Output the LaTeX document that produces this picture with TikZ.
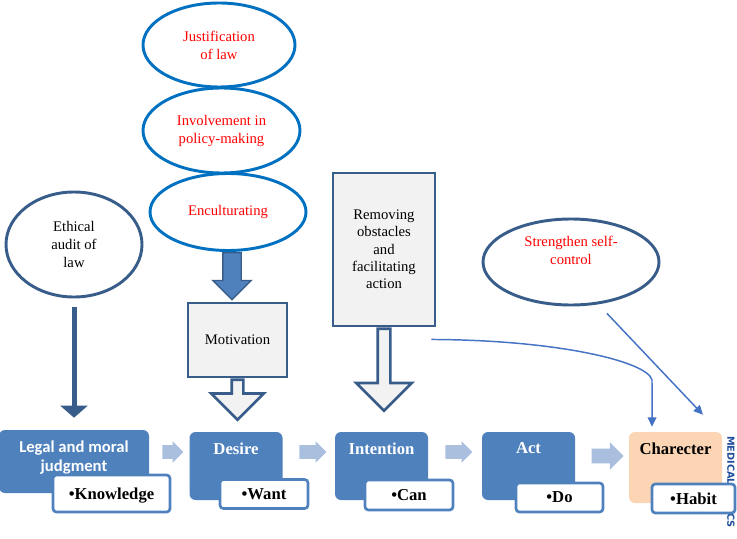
\documentclass[tikz,border=0pt]{standalone}
\usepackage{fontspec}
\setmainfont{Liberation Serif}
\newfontfamily\calibri{Carlito}
\newfontfamily\wmfont{DejaVu Sans}
\usetikzlibrary{shapes.geometric,shapes.arrows,arrows.meta}
\definecolor{ellblue}{RGB}{0,112,192}
\definecolor{darkblue}{RGB}{56,93,138}
\definecolor{midblue}{RGB}{79,129,189}
\definecolor{paleblue}{RGB}{170,190,222}
\definecolor{boxgray}{RGB}{242,242,242}
\definecolor{peach}{RGB}{252,213,180}
\definecolor{linkblue}{RGB}{68,114,196}
\definecolor{wmblue}{RGB}{31,78,154}
\begin{document}
\begin{tikzpicture}[x=0.75pt,y=-0.75pt,
  bluering/.style={ellipse, draw=ellblue, line width=2.2pt, text=red, align=center, inner sep=0pt, font=\fontsize{11}{13.5}\selectfont},
  darkring/.style={ellipse, draw=darkblue, line width=2.2pt, align=center, inner sep=0pt, font=\fontsize{11}{13.5}\selectfont},
  graybox/.style={rectangle, draw=darkblue, fill=boxgray, line width=2.2pt, align=center, inner sep=0pt, font=\fontsize{11}{13}\selectfont},
  stagebox/.style={rectangle, rounded corners=4.5pt, fill=midblue, minimum width=69.75pt, minimum height=51pt},
  stagetitle/.style={anchor=north, inner sep=0pt, yshift=-8pt, text=white, align=center, font=\fontsize{12.5}{15}\selectfont\bfseries},
  tagbox/.style={rectangle, rounded corners=2.5pt, draw=midblue, fill=white, line width=2pt, minimum width=66pt, minimum height=21.75pt, inner sep=0pt, text depth=0pt, font=\fontsize{12.5}{15}\selectfont\bfseries},
  hollowarrow/.style={single arrow, shape border rotate=270, draw=darkblue, fill=boxgray, line width=2pt, inner ysep=0pt, anchor=tail},
  flowarrow/.style={single arrow, fill=paleblue, inner xsep=0pt, inner ysep=4.875pt, single arrow head extend=3pt, minimum height=15.75pt},
  link/.style={draw=linkblue, line width=1.1pt, -{Triangle[width=6.5pt,length=7pt]}}
]
\useasboundingbox (0,0) rectangle (737,538);
\node[bluering, minimum width=114pt, minimum height=63pt] (justify) at (219,45) {Justification\\of law};
\node[bluering, minimum width=117.75pt, minimum height=63.75pt] (involve) at (221.5,130.5) {Involvement in\\policy-making};
\node[bluering, minimum width=117pt, minimum height=57.75pt] (encult) at (228,212) {Enculturating};
\node[darkring, minimum width=102pt, minimum height=78.75pt] (audit) at (74,244.5) {Ethical\\audit of\\law};
\node[darkring, text=red, minimum width=132pt, minimum height=64.5pt] (selfctl) at (571,262) {Strengthen self-\\control\\[4pt]};
\node[graybox, minimum width=74.25pt, minimum height=55.5pt] (motiv) at (237.5,340) {Motivation};
\node[graybox, minimum width=76.5pt, minimum height=114.75pt] (remove) at (384,249.5) {Removing\\obstacles\\and\\facilitating\\action};

\node[rotate=-90, text=wmblue, font=\wmfont\bfseries\fontsize{7.3}{9}\selectfont, inner sep=0pt] (wmark) at (731,482) {MEDICAL ETHICS};

\node[stagebox, minimum width=112.5pt, minimum height=47.25pt, label={[stagetitle, font=\calibri\bfseries\fontsize{12.5}{14.25}\selectfont]north:Legal and moral\\judgment}] (legal) at (74,461.5) {};
\node[stagebox, label={[stagetitle]north:Desire}] (desire) at (236,466) {};
\node[stagebox, label={[stagetitle]north:Intention}] (intent) at (381.5,466) {};
\node[stagebox, label={[stagetitle]north:Act}] (act) at (528.5,466) {};
\node[stagebox, fill=peach, minimum height=53.25pt, label={[stagetitle, text=black]north:Charecter}] (charact) at (675.5,467.5) {};

\node[tagbox, minimum width=87.75pt, minimum height=27.75pt] (knowl) at (111.5,493.5) {•Knowledge};
\node[tagbox] (want) at (264,494) {•Want};
\node[tagbox, minimum height=22.5pt] (can) at (409,495) {•Can};
\node[tagbox, minimum width=65.25pt] (do) at (559.5,497.5) {•Do};
\node[tagbox, minimum width=62.25pt] (habit) at (693.5,498.5) {•Habit};

\node[flowarrow] (flow1) at (169.5,452) {};
\node[flowarrow, minimum height=20.25pt] (flow2) at (309.5,452) {};
\node[flowarrow, minimum height=20.25pt] (flow3) at (455.5,452) {};
\node[flowarrow, minimum height=24pt, inner ysep=5.25pt, single arrow head extend=4.9pt] (flow4) at (604,456) {};

\node[single arrow, shape border rotate=270, draw=darkblue, fill=midblue, line width=1pt, inner xsep=6.375pt, inner ysep=0pt, single arrow head extend=7.5pt, minimum height=35.25pt, anchor=tail] (encarrow) at ([xshift=3pt]encult.south) {};
\node[hollowarrow, inner xsep=3.375pt, single arrow head extend=15.4pt, minimum height=30pt] (motarrow) at (motiv.south) {};
\node[hollowarrow, inner xsep=3.75pt, single arrow head extend=16.1pt, minimum height=61.5pt] (remarrow) at (remove.south) {};

\draw[darkblue, line width=3.75pt, -{Triangle[width=20pt,length=9pt]}] ([yshift=-6.75pt]audit.south) -- ([yshift=9pt]legal.north);
\draw[link] ([xshift=-3.75pt, yshift=-9pt]remove.south east) .. controls (560,340) and (648,362) .. (652,380) -- ([xshift=-17.6pt, yshift=3.75pt]charact.north);
\draw[link] ([xshift=27pt, yshift=-5.25pt]selfctl.south) -- ([xshift=20.6pt, yshift=12.75pt]charact.north);
\end{tikzpicture}
\end{document}
